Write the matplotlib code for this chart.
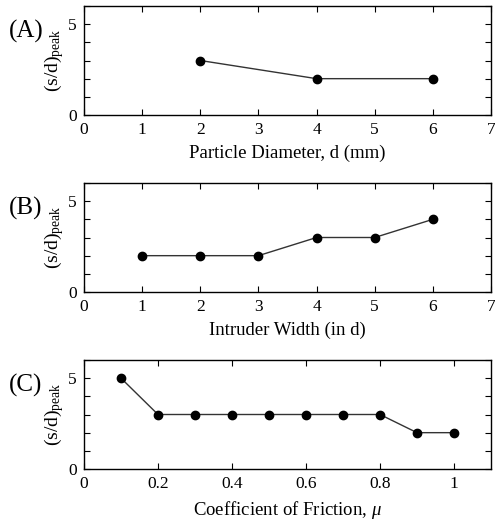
import matplotlib.pyplot as plt

# panel A: particle diameter
diam_x = [2, 4, 6]
diam_y = [3, 2, 2]
# panel B: intruder width
width_x = [1, 2, 3, 4, 5, 6]
width_y = [2, 2, 2, 3, 3, 4]
# panel C: friction coefficient
mu_x = [0.1, 0.2, 0.3, 0.4, 0.5, 0.6, 0.7, 0.8, 0.9, 1.0]
mu_y = [5, 3, 3, 3, 3, 3, 3, 3, 2, 2]

plt.rcParams['font.family'] = 'Liberation Serif'
plt.rcParams['mathtext.fontset'] = 'custom'
plt.rcParams['mathtext.rm'] = 'Liberation Serif'
plt.rcParams['mathtext.it'] = 'Liberation Serif:italic'

fig = plt.figure(figsize=(4.95, 5.2), dpi=100)
W, H = 495, 520
boxes = [(6, 115), (183, 292), (360, 469)]
panels = [
    (diam_x, diam_y, 'Particle Diameter, d (mm)', '(A)', (0, 7), range(0, 8)),
    (width_x, width_y, 'Intruder Width (in d)', '(B)', (0, 7), range(0, 8)),
    (mu_x, mu_y, r'Coefficient of Friction, $\mu$', '(C)', (0, 1.1),
     [0, 0.2, 0.4, 0.6, 0.8, 1.0]),
]

for (top, bot), (x, y, xl, tag, xlim, xt) in zip(boxes, panels):
    ax = fig.add_axes([84 / W, 1 - bot / H, (491 - 84) / W, (bot - top) / H])
    ax.plot(x, y, '-', color='#333333', lw=1.0, zorder=2)
    ax.plot(x, y, 'o', color='black', ms=6, zorder=3)
    ax.set_xlim(*xlim)
    ax.set_ylim(0, 6)
    ax.set_xticks(list(xt))
    if tag == '(C)':
        ax.set_xticklabels(['0', '0.2', '0.4', '0.6', '0.8', '1'])
    ax.set_yticks([0, 1, 2, 3, 4, 5, 6])
    ax.set_yticklabels(['0', '', '', '', '', '5', ''])
    ax.tick_params(direction='in', top=True, right=True, labelsize=12.5,
                   length=4, width=0.8, pad=5)
    ax.set_xlabel(xl, fontsize=13.5, labelpad=5)
    ax.set_ylabel(r'(s/d)$_\mathrm{peak}$', fontsize=14, labelpad=2)
    for s in ax.spines.values():
        s.set_linewidth(1.0)
    fig.text(9 / W, 1 - (top + 25) / H, tag, fontsize=18, va='center', ha='left')

fig.savefig('out.png', dpi=100)
